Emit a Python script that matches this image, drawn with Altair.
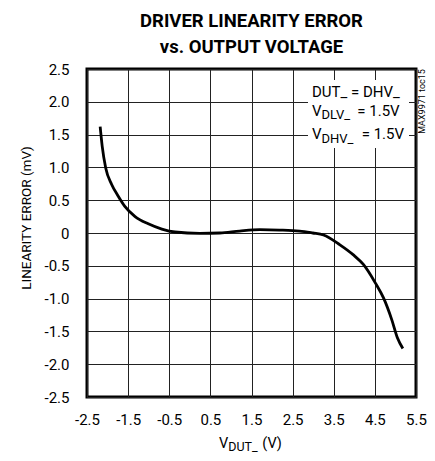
import altair as alt
import pandas as pd

# Curve
v_dut = [-2.18, -2.13, -2.045, -1.90, -1.74, -1.58, -1.33, -1.01, -0.68, -0.36, 0.24, 0.73,
         1.21, 1.70, 2.18, 2.67, 2.99, 3.25, 3.65, 3.97, 4.22, 4.51, 4.71, 4.91, 5.05, 5.18]
lin_err = [1.62, 1.32, 0.99, 0.74, 0.56, 0.405, 0.25, 0.14, 0.06, 0.015, -0.005, 0.0,
           0.03, 0.05, 0.045, 0.03, 0.0, -0.03, -0.18, -0.33, -0.48, -0.76, -0.99, -1.32, -1.60, -1.76]

x_ticks = [-2.5, -1.5, -0.5, 0.5, 1.5, 2.5, 3.5, 4.5, 5.5]
y_ticks = [2.5, 2.0, 1.5, 1.0, 0.5, 0.0, -0.5, -1.0, -1.5, -2.0, -2.5]

title_lines = ["DRIVER LINEARITY ERROR", "vs. OUTPUT VOLTAGE"]
y_title = "LINEARITY ERROR (mV)"
side_note = "MAX9971 toc15"

FONT = "Roboto"
W, H = 329, 328

df = pd.DataFrame({"v": v_dut, "e": lin_err})
one = pd.DataFrame({"a": [0]})

lbl = "(datum.value < 0 ? '-' : '') + (datum.value == 0 ? '0' : format(abs(datum.value), '.1f'))"

line = alt.Chart(df).mark_line(color="black", strokeWidth=2.8, interpolate="monotone").encode(
    x=alt.X("v:Q", scale=alt.Scale(domain=[-2.5, 5.5], nice=False, zero=False),
            axis=alt.Axis(values=x_ticks, title=None, labelExpr=lbl, grid=True, domain=False,
                          ticks=False, labelPadding=15, labelFontSize=15, labelFont=FONT,
                          labelColor="black", gridColor="#222", gridWidth=1, labelFlush=False)),
    y=alt.Y("e:Q", scale=alt.Scale(domain=[-2.5, 2.5], nice=False, zero=False),
            axis=alt.Axis(values=y_ticks, title=None, labelExpr=lbl, grid=True, domain=False,
                          ticks=False, labelPadding=18, labelFontSize=15, labelFont=FONT,
                          labelColor="black", gridColor="#222", gridWidth=1, labelFlush=False)),
)

box = alt.Chart(one).mark_rect(fill="white").encode(
    x=alt.value(221), x2=alt.value(322), y=alt.value(11), y2=alt.value(79))


def txt(s, x, y, size, angle=0, align="left", baseline="alphabetic"):
    return alt.Chart(one).mark_text(text=s, font=FONT, fontSize=size, color="black",
                                    align=align, baseline=baseline, angle=angle).encode(
        x=alt.value(x), y=alt.value(y))


annots = [
    txt("DUT_ = DHV_", 225, 27.7, 15),
    txt("V", 225, 47, 15), txt("DLV_", 234.5, 50.3, 13), txt("= 1.5V", 270.3, 47, 15),
    txt("V", 225, 70.3, 15), txt("DHV_", 234.5, 73.5, 13), txt("= 1.5V", 274.7, 70.3, 15),
    txt(side_note, 335, 32.5, 9, angle=270, align="center", baseline="middle"),
    txt("V", 132, 378.5, 14.5), txt("DUT_", 141.3, 381.5, 12.5), txt("(V)", 175.3, 378.5, 14.5),
    txt(y_title, -60, 149, 13.5, angle=270, align="center", baseline="middle"),
]

chart = alt.layer(line, box, *annots).properties(
    width=W, height=H,
    title=alt.Title(title_lines, font=FONT, fontSize=18.5, fontWeight="bold", anchor="middle",
                    lineHeight=26, offset=6, color="black"),
    autosize=alt.AutoSizeParams(type="none"),
    padding={"left": 79, "top": 61, "right": 11, "bottom": 56},
).configure_view(stroke="black", strokeWidth=3)

chart.save("out.html", embed_options={"renderer": "svg", "actions": False})
